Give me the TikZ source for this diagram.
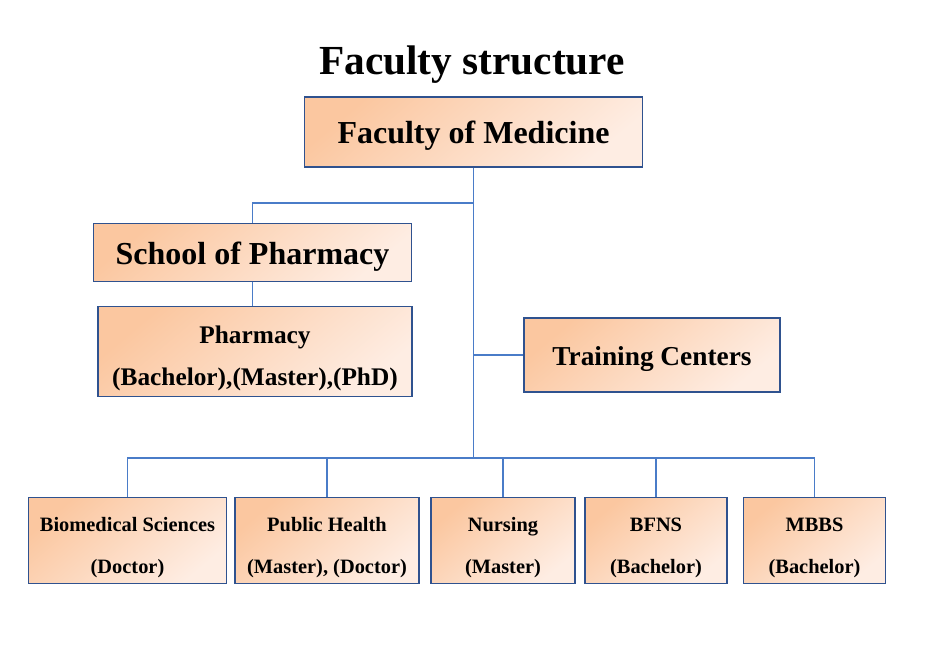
\documentclass[tikz,border=0pt]{standalone}
\usepackage{fontspec}
\setmainfont{Liberation Serif}
\definecolor{peachdark}{HTML}{FBC7A0}
\definecolor{peachlight}{HTML}{FEEDE3}
\definecolor{boxline}{HTML}{2F528F}
\definecolor{linkblue}{HTML}{4A7CC8}
\newcommand{\lowline}[2]{\raisebox{-#1}[0pt][0pt]{#2}}
\tikzset{
  unitbox/.style={draw=boxline, line width=0.8pt, inner sep=0pt, align=center,
    top color=peachdark, bottom color=peachlight, shading angle=40,
    font=\bfseries},
  link/.style={draw=linkblue, line width=1.3pt}
}

\begin{document}
\begin{tikzpicture}[x=0.75pt, y=-0.75pt]
  \useasboundingbox (0,0) rectangle (943,660);
  % Title and top level
  \node (title) at (472,65) {\bfseries\fontsize{31}{34}\selectfont Faculty structure};
  \node[unitbox, minimum width=254pt, minimum height=52.5pt, font=\bfseries\fontsize{24}{28}\selectfont] (fom) at (473.5,132) {\lowline{8.5pt}{Faculty of Medicine}};

  % Second level
  \node[unitbox, minimum width=239pt, minimum height=43pt, font=\bfseries\fontsize{24}{28}\selectfont] (school) at (252.5,252.5) {\lowline{9pt}{School of Pharmacy}};
  \node[unitbox, minimum width=235.5pt, minimum height=67pt, font=\bfseries\fontsize{19}{31.5}\selectfont] (pharm) at (255,351.5) {\rule{0pt}{24pt}Pharmacy\\(Bachelor),(Master),(PhD)};
  \node[unitbox, minimum width=192pt, minimum height=55.5pt, font=\bfseries\fontsize{20.5}{24}\selectfont] (train) at (652,355) {\lowline{7.5pt}{Training Centers}};

  % Departments
  \tikzset{dept/.style={unitbox, minimum height=64pt, font=\bfseries\fontsize{15.3}{31.5}\selectfont}}
  \node[dept, minimum width=148pt] (bio) at (127.5,540.5) {\rule{0pt}{21pt}Biomedical Sciences\\(Doctor)};
  \node[dept, minimum width=138pt] (pub) at (327,540.5) {\rule{0pt}{21pt}Public Health\\(Master), (Doctor)};
  \node[dept, minimum width=108pt] (nurs) at (503,540.5) {\rule{0pt}{21pt}Nursing\\(Master)};
  \node[dept, minimum width=106.5pt] (bfns) at (656,540.5) {\rule{0pt}{21pt}BFNS\\(Bachelor)};
  \node[dept, minimum width=107pt] (mbbs) at (814.5,540.5) {\rule{0pt}{21pt}MBBS\\(Bachelor)};

  % Connectors
  \coordinate (jA) at (473.5,203);
  \coordinate (jT) at (473.5,355);
  \coordinate (jB) at (473.5,458);
  \draw[link] (fom.south) -- (jB);
  \draw[link] (jA) -| (school.north);
  \draw[link] (school.south) -- (school.south |- pharm.north);
  \draw[link] (jT) -- (train.west);
  \foreach \d in {bio,pub,nurs,bfns,mbbs}
    \draw[link] (jB) -| (\d.north);
\end{tikzpicture}
\end{document}
